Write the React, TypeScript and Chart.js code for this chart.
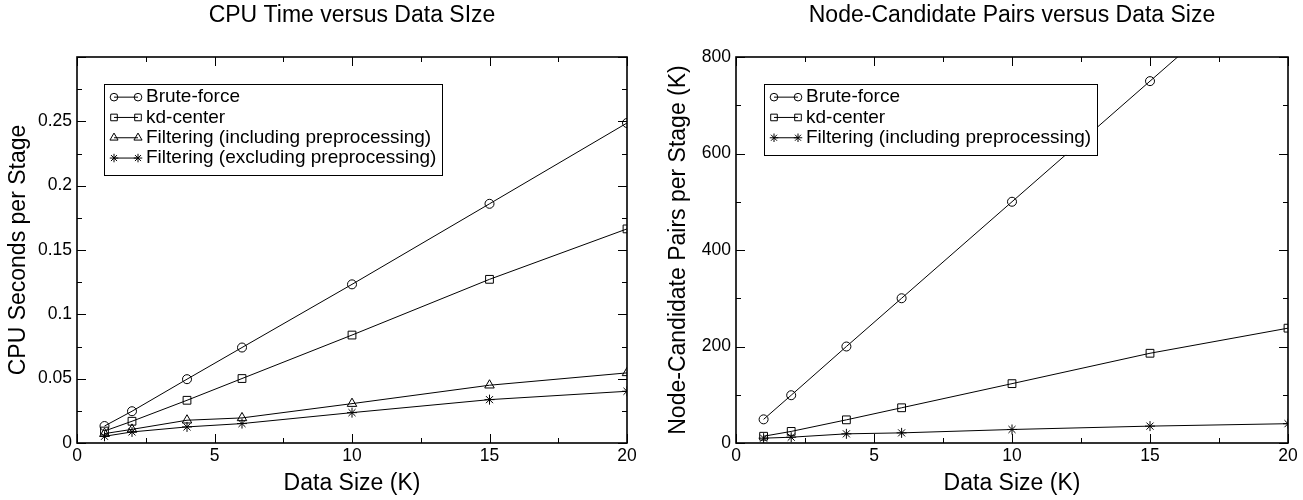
import React, { useEffect, useRef } from 'react';
import { Chart, registerables } from 'chart.js';

Chart.register(...registerables);

// ---------------- data ----------------
const dataSizes = [1, 2, 4, 6, 10, 15, 20];

const cpuBruteForce = [0.0132, 0.0247, 0.0496, 0.0742, 0.1233, 0.1859, 0.2487];
const cpuKdCenter = [0.0093, 0.0169, 0.0332, 0.0501, 0.0839, 0.1272, 0.1664];
const cpuFilteringIncl = [0.0073, 0.0106, 0.0177, 0.0195, 0.0306, 0.0449, 0.0545];
const cpuFilteringExcl = [0.0052, 0.0086, 0.0125, 0.0151, 0.0236, 0.0337, 0.0402];

const pairsBruteForce = [49, 99, 200, 300, 500, 750, 1000];
const pairsKdCenter = [14, 24, 48, 73, 123, 186, 238];
const pairsFiltering = [10, 12, 19, 21, 28, 35, 40];

const labelBrute = 'Brute-force';
const labelKd = 'kd-center';
const labelFiltIncl = 'Filtering (including preprocessing)';
const labelFiltExcl = 'Filtering (excluding preprocessing)';

const cpuTitle = 'CPU Time versus Data SIze';
const pairsTitle = 'Node-Candidate Pairs versus Data Size';
const xAxisTitle = 'Data Size (K)';
const cpuYAxisTitle = 'CPU Seconds per Stage';
const pairsYAxisTitle = 'Node-Candidate Pairs per Stage (K)';

const FONT = "'Liberation Sans', Arial, Helvetica, sans-serif";

// ---------------- helpers ----------------
function drawMarker(ctx: CanvasRenderingContext2D, style: string, x: number, y: number, r: number) {
  ctx.beginPath();
  if (style === 'circle') {
    ctx.arc(x, y, r, 0, Math.PI * 2);
  } else if (style === 'rect') {
    const s = r * Math.SQRT1_2;
    ctx.rect(x - s, y - s, 2 * s, 2 * s);
  } else if (style === 'triangle') {
    for (let k = 0; k < 3; k++) {
      const a = (k * 2 * Math.PI) / 3;
      const px = x + Math.sin(a) * r;
      const py = y - Math.cos(a) * r;
      if (k === 0) ctx.moveTo(px, py);
      else ctx.lineTo(px, py);
    }
    ctx.closePath();
  } else if (style === 'star') {
    for (let k = 0; k < 4; k++) {
      const a = (k * Math.PI) / 4;
      ctx.moveTo(x - Math.cos(a) * r, y - Math.sin(a) * r);
      ctx.lineTo(x + Math.cos(a) * r, y + Math.sin(a) * r);
    }
  }
  ctx.stroke();
}

const framePlugin = {
  id: 'frameTicks',
  afterDraw(chart: any, _args: any, opts: any) {
    const { ctx, chartArea: a, scales } = chart;
    const xs = scales.x;
    const ys = scales.y;
    ctx.save();
    ctx.strokeStyle = '#000';
    ctx.lineWidth = 1;
    const seg = (x1: number, y1: number, x2: number, y2: number) => {
      ctx.beginPath();
      ctx.moveTo(x1, y1);
      ctx.lineTo(x2, y2);
      ctx.stroke();
    };
    const nx = Math.round((xs.max - xs.min) / opts.xMinor);
    const xEvery = Math.round(opts.xMajor / opts.xMinor);
    for (let i = 0; i <= nx; i++) {
      const px = Math.round(xs.getPixelForValue(xs.min + i * opts.xMinor)) + 0.5;
      const L = i % xEvery === 0 ? opts.majorLen : opts.minorLen;
      seg(px, a.bottom, px, a.bottom - L);
      seg(px, a.top, px, a.top + L);
    }
    const ny = Math.round((ys.max - ys.min) / opts.yMinor);
    const yEvery = Math.round(opts.yMajor / opts.yMinor);
    for (let i = 0; i <= ny; i++) {
      const py = Math.round(ys.getPixelForValue(ys.min + i * opts.yMinor)) + 0.5;
      const L = i % yEvery === 0 ? opts.majorLen : opts.minorLen;
      seg(a.left, py, a.left + L, py);
      seg(a.right, py, a.right - L, py);
    }
    ctx.lineWidth = 1.6;
    ctx.strokeRect(a.left, a.top, a.right - a.left, a.bottom - a.top);
    ctx.restore();
  },
};

const boxLegendPlugin = {
  id: 'boxLegend',
  afterDraw(chart: any, _args: any, opts: any) {
    const { ctx, chartArea: a } = chart;
    const ds = chart.data.datasets;
    ctx.save();
    ctx.font = `${opts.fontSize}px ${FONT}`;
    let maxW = 0;
    ds.forEach((d: any) => {
      maxW = Math.max(maxW, ctx.measureText(d.label).width);
    });
    const left = a.left + opts.offsetX;
    const top = a.top + opts.offsetY;
    const textX = left + opts.textOffset;
    const w = opts.textOffset + maxW + opts.padRight;
    const h = opts.padTop + ds.length * opts.rowH + opts.padBottom;
    ctx.fillStyle = '#fff';
    ctx.fillRect(left, top, w, h);
    ctx.strokeStyle = '#000';
    ctx.lineWidth = 1;
    ctx.strokeRect(Math.round(left) + 0.5, Math.round(top) + 0.5, Math.round(w), Math.round(h));
    ds.forEach((d: any, i: number) => {
      const cy = top + opts.padTop + opts.rowH * (i + 0.5);
      const x1 = left + opts.mark1;
      const x2 = left + opts.mark2;
      ctx.strokeStyle = '#000';
      ctx.lineWidth = 1;
      ctx.beginPath();
      ctx.moveTo(x1, cy);
      ctx.lineTo(x2, cy);
      ctx.stroke();
      drawMarker(ctx, d.pointStyle, x1, cy, d.pointRadius * 0.85);
      drawMarker(ctx, d.pointStyle, x2, cy, d.pointRadius * 0.85);
      ctx.fillStyle = '#000';
      ctx.textAlign = 'left';
      ctx.textBaseline = 'middle';
      ctx.fillText(d.label, textX, cy);
    });
    ctx.restore();
  },
};

function makeDataset(label: string, values: number[], style: string, radius: number) {
  return {
    label,
    data: dataSizes.map((x, i) => ({ x, y: values[i] })),
    borderColor: '#000',
    borderWidth: 1,
    pointStyle: style,
    pointRadius: radius,
    pointBorderColor: '#000',
    pointBackgroundColor: 'rgba(0,0,0,0)',
    pointBorderWidth: 1,
    tension: 0,
    fill: false,
  };
}

function makeConfig(p: {
  title: string;
  yTitle: string;
  datasets: any[];
  yMax: number;
  yStep: number;
  yMinor: number;
  hideTop: boolean;
  yAxisWidth: number;
  yTitlePad: number;
  padRight: number;
  legendX: number;
}): any {
  return {
    type: 'line',
    data: { datasets: p.datasets },
    plugins: [framePlugin, boxLegendPlugin],
    options: {
      animation: false,
      responsive: true,
      maintainAspectRatio: false,
      devicePixelRatio: 1,
      layout: { padding: { left: 0, right: p.padRight, top: 0, bottom: 0 } },
      scales: {
        x: {
          type: 'linear',
          min: 0,
          max: 20,
          ticks: {
            stepSize: 5,
            color: '#000',
            font: { size: 17.5, family: FONT },
            padding: 3,
            maxRotation: 0,
          },
          grid: { display: false, drawTicks: false },
          border: { display: false },
          title: {
            display: true,
            text: xAxisTitle,
            color: '#000',
            font: { size: 23, family: FONT },
            padding: { top: 0, bottom: 3 },
          },
          afterFit(s: any) {
            s.height = 57;
          },
        },
        y: {
          type: 'linear',
          min: 0,
          max: p.yMax,
          ticks: {
            stepSize: p.yStep,
            color: '#000',
            font: { size: 17.5, family: FONT },
            padding: 5,
            callback: (v: number) => {
              if (p.hideTop && v >= p.yMax - 1e-9) return '';
              return String(Number(v.toFixed(4)));
            },
          },
          grid: { display: false, drawTicks: false },
          border: { display: false },
          title: {
            display: true,
            text: p.yTitle,
            color: '#000',
            font: { size: 23, family: FONT },
            padding: { top: p.yTitlePad, bottom: 0 },
          },
          afterFit(s: any) {
            s.width = p.yAxisWidth;
          },
        },
      },
      plugins: {
        legend: { display: false },
        tooltip: { enabled: false },
        title: {
          display: true,
          text: p.title,
          color: '#000',
          fullSize: false,
          font: { size: 23, weight: 'normal', family: FONT },
          padding: { top: 1.7, bottom: 27.7 },
        },
        frameTicks: {
          xMinor: 2.5,
          xMajor: 5,
          yMinor: p.yMinor,
          yMajor: p.yStep,
          majorLen: 9,
          minorLen: 5,
        },
        boxLegend: {
          offsetX: p.legendX,
          offsetY: 27,
          fontSize: 19,
          rowH: 20.3,
          padTop: 3,
          padBottom: 7,
          padRight: 6,
          mark1: 10,
          mark2: 34,
          textOffset: 42,
        },
      },
    },
  };
}

function ChartBox(props: { config: any; left: number; width: number }) {
  const ref = useRef<HTMLCanvasElement | null>(null);
  useEffect(() => {
    if (!ref.current) return;
    const chart = new Chart(ref.current, props.config);
    return () => chart.destroy();
  }, []);
  return (
    <div style={{ position: 'absolute', left: props.left, top: 0, width: props.width, height: 500 }}>
      <canvas ref={ref} />
    </div>
  );
}

export default function App() {
  const cpuConfig = makeConfig({
    title: cpuTitle,
    yTitle: cpuYAxisTitle,
    datasets: [
      makeDataset(labelBrute, cpuBruteForce, 'circle', 4.5),
      makeDataset(labelKd, cpuKdCenter, 'rect', 5.5),
      makeDataset(labelFiltIncl, cpuFilteringIncl, 'triangle', 5.5),
      makeDataset(labelFiltExcl, cpuFilteringExcl, 'star', 5),
    ],
    yMax: 0.3,
    yStep: 0.05,
    yMinor: 0.025,
    hideTop: true,
    yAxisWidth: 77,
    yTitlePad: 5.2,
    padRight: 24,
    legendX: 27,
  });
  const pairsConfig = makeConfig({
    title: pairsTitle,
    yTitle: pairsYAxisTitle,
    datasets: [
      makeDataset(labelBrute, pairsBruteForce, 'circle', 4.5),
      makeDataset(labelKd, pairsKdCenter, 'rect', 5.5),
      makeDataset(labelFiltIncl, pairsFiltering, 'star', 5),
    ],
    yMax: 800,
    yStep: 200,
    yMinor: 100,
    hideTop: false,
    yAxisWidth: 85,
    yTitlePad: 14.2,
    padRight: 15,
    legendX: 28,
  });
  return (
    <div
      style={{
        position: 'fixed',
        left: 0,
        top: 0,
        width: 1303,
        height: 500,
        background: '#fff',
        overflow: 'hidden',
      }}
    >
      <ChartBox config={cpuConfig} left={0} width={651} />
      <ChartBox config={pairsConfig} left={651} width={652} />
    </div>
  );
}
